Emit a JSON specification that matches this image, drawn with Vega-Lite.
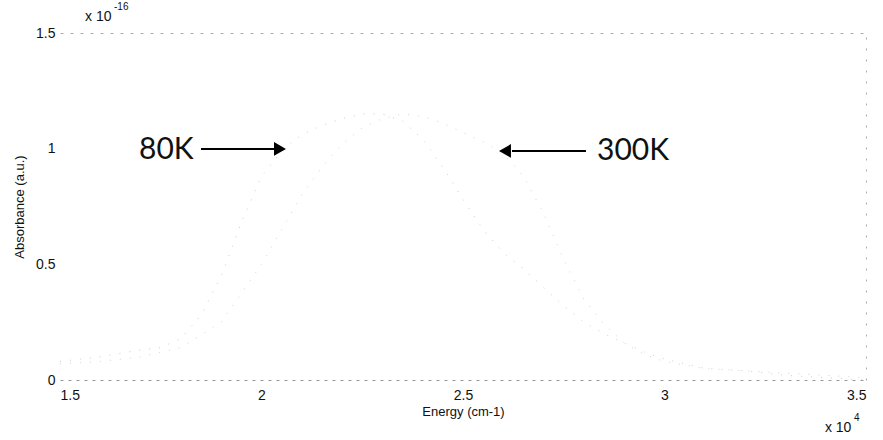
{
  "$schema": "https://vega.github.io/schema/vega-lite/v6.json",
  "autosize": {"type": "none"},
  "width": 806,
  "height": 347,
  "padding": {"left": 60, "top": 33, "right": 17, "bottom": 60},
  "background": "white",
  "config": {
    "view": {"stroke": null},
    "font": "Liberation Sans",
    "axis": {"labelFont": "Liberation Sans", "titleFont": "Liberation Sans", "labelColor": "#111", "titleColor": "#111", "titleFontWeight": "normal", "grid": false}
  },
  "datasets": {
    "spectra": [
      {"energy": 15000, "absorbance": 0.08e-16, "temp": "80K"},
      {"energy": 16000, "absorbance": 0.10e-16, "temp": "80K"},
      {"energy": 17000, "absorbance": 0.13e-16, "temp": "80K"},
      {"energy": 17500, "absorbance": 0.14e-16, "temp": "80K"},
      {"energy": 18000, "absorbance": 0.18e-16, "temp": "80K"},
      {"energy": 18500, "absorbance": 0.28e-16, "temp": "80K"},
      {"energy": 19000, "absorbance": 0.45e-16, "temp": "80K"},
      {"energy": 19500, "absorbance": 0.68e-16, "temp": "80K"},
      {"energy": 20000, "absorbance": 0.88e-16, "temp": "80K"},
      {"energy": 20500, "absorbance": 0.99e-16, "temp": "80K"},
      {"energy": 21000, "absorbance": 1.06e-16, "temp": "80K"},
      {"energy": 21500, "absorbance": 1.10e-16, "temp": "80K"},
      {"energy": 22000, "absorbance": 1.13e-16, "temp": "80K"},
      {"energy": 22500, "absorbance": 1.15e-16, "temp": "80K"},
      {"energy": 23000, "absorbance": 1.15e-16, "temp": "80K"},
      {"energy": 23500, "absorbance": 1.12e-16, "temp": "80K"},
      {"energy": 24000, "absorbance": 1.04e-16, "temp": "80K"},
      {"energy": 24500, "absorbance": 0.92e-16, "temp": "80K"},
      {"energy": 25000, "absorbance": 0.78e-16, "temp": "80K"},
      {"energy": 25500, "absorbance": 0.65e-16, "temp": "80K"},
      {"energy": 26000, "absorbance": 0.55e-16, "temp": "80K"},
      {"energy": 26500, "absorbance": 0.48e-16, "temp": "80K"},
      {"energy": 27000, "absorbance": 0.40e-16, "temp": "80K"},
      {"energy": 27500, "absorbance": 0.32e-16, "temp": "80K"},
      {"energy": 28000, "absorbance": 0.25e-16, "temp": "80K"},
      {"energy": 28500, "absorbance": 0.20e-16, "temp": "80K"},
      {"energy": 29000, "absorbance": 0.16e-16, "temp": "80K"},
      {"energy": 29500, "absorbance": 0.12e-16, "temp": "80K"},
      {"energy": 30000, "absorbance": 0.09e-16, "temp": "80K"},
      {"energy": 30500, "absorbance": 0.07e-16, "temp": "80K"},
      {"energy": 31000, "absorbance": 0.05e-16, "temp": "80K"},
      {"energy": 32000, "absorbance": 0.04e-16, "temp": "80K"},
      {"energy": 33000, "absorbance": 0.02e-16, "temp": "80K"},
      {"energy": 34000, "absorbance": 0.01e-16, "temp": "80K"},
      {"energy": 35000, "absorbance": 0.00e-16, "temp": "80K"},
      {"energy": 15000, "absorbance": 0.07e-16, "temp": "300K"},
      {"energy": 16000, "absorbance": 0.08e-16, "temp": "300K"},
      {"energy": 17000, "absorbance": 0.10e-16, "temp": "300K"},
      {"energy": 18000, "absorbance": 0.14e-16, "temp": "300K"},
      {"energy": 19000, "absorbance": 0.25e-16, "temp": "300K"},
      {"energy": 20000, "absorbance": 0.50e-16, "temp": "300K"},
      {"energy": 20500, "absorbance": 0.65e-16, "temp": "300K"},
      {"energy": 21000, "absorbance": 0.80e-16, "temp": "300K"},
      {"energy": 21500, "absorbance": 0.92e-16, "temp": "300K"},
      {"energy": 22000, "absorbance": 1.02e-16, "temp": "300K"},
      {"energy": 22500, "absorbance": 1.09e-16, "temp": "300K"},
      {"energy": 23000, "absorbance": 1.13e-16, "temp": "300K"},
      {"energy": 23500, "absorbance": 1.15e-16, "temp": "300K"},
      {"energy": 24000, "absorbance": 1.14e-16, "temp": "300K"},
      {"energy": 24500, "absorbance": 1.11e-16, "temp": "300K"},
      {"energy": 25000, "absorbance": 1.07e-16, "temp": "300K"},
      {"energy": 25500, "absorbance": 1.03e-16, "temp": "300K"},
      {"energy": 26000, "absorbance": 0.98e-16, "temp": "300K"},
      {"energy": 26500, "absorbance": 0.88e-16, "temp": "300K"},
      {"energy": 27000, "absorbance": 0.72e-16, "temp": "300K"},
      {"energy": 27500, "absorbance": 0.52e-16, "temp": "300K"},
      {"energy": 28000, "absorbance": 0.35e-16, "temp": "300K"},
      {"energy": 28500, "absorbance": 0.24e-16, "temp": "300K"},
      {"energy": 29000, "absorbance": 0.16e-16, "temp": "300K"},
      {"energy": 29500, "absorbance": 0.11e-16, "temp": "300K"},
      {"energy": 30000, "absorbance": 0.08e-16, "temp": "300K"},
      {"energy": 31000, "absorbance": 0.05e-16, "temp": "300K"},
      {"energy": 32000, "absorbance": 0.04e-16, "temp": "300K"},
      {"energy": 33000, "absorbance": 0.03e-16, "temp": "300K"},
      {"energy": 34000, "absorbance": 0.02e-16, "temp": "300K"},
      {"energy": 35000, "absorbance": 0.01e-16, "temp": "300K"}
    ],
    "arrows": [
      {"label": "80K", "start": 18499, "end": 20335, "head": 20459, "level": 0.999e-16, "dir": "right"},
      {"label": "300K", "start": 26216, "end": 28052, "head": 26042, "level": 0.99e-16, "dir": "left"}
    ],
    "labels": [
      {"label": "80K", "energy": 16960, "level": 0.995e-16},
      {"label": "300K", "energy": 28325, "level": 0.99e-16}
    ],
    "multipliers": [
      {"text": "x 10", "energy": 15620, "level": 1.569e-16, "size": 14},
      {"text": "-16", "energy": 16340, "level": 1.613e-16, "size": 10},
      {"text": "x 10", "energy": 33980, "level": -0.2075e-16, "size": 14},
      {"text": "4", "energy": 34700, "level": -0.164e-16, "size": 10}
    ]
  },
  "layer": [
    {
      "data": {"name": "spectra"},
      "mark": {"type": "line", "strokeWidth": 1, "strokeDash": [1, 9]},
      "encoding": {
        "x": {"field": "energy", "type": "quantitative", "scale": {"domain": [15000, 35000], "nice": false},
          "axis": {"orient": "bottom", "values": [15000, 20000, 25000, 30000, 35000], "labelExpr": "format(datum.value/10000, '.1~f')", "title": "Energy (cm-1)", "titleFontSize": 13, "labelFontSize": 14, "ticks": false, "labelPadding": 8, "titlePadding": 3, "domainColor": "#999", "domainDash": [3, 5], "domainWidth": 1}},
        "y": {"field": "absorbance", "type": "quantitative", "scale": {"domain": [0, 1.5e-16], "nice": false},
          "axis": {"orient": "left", "values": [0, 0.5e-16, 1e-16, 1.5e-16], "labelExpr": "format(datum.value*1e16, '.1~f')", "title": "Absorbance (a.u.)", "titleFontSize": 13, "labelFontSize": 14, "ticks": false, "domain": false, "labelPadding": 5, "titlePadding": 9}},
        "color": {"field": "temp", "type": "nominal", "scale": {"domain": ["80K", "300K"], "range": ["#cccccc", "#d4d4d4"]}, "legend": null}
      }
    },
    {
      "data": {"name": "arrows"},
      "mark": {"type": "rule", "strokeWidth": 2, "color": "#000"},
      "encoding": {
        "x": {"field": "start", "type": "quantitative", "axis": {"orient": "top", "labels": false, "ticks": false, "title": null, "domainColor": "#aaa", "domainDash": [3, 7]}},
        "x2": {"field": "end"},
        "y": {"field": "level", "type": "quantitative", "axis": {"orient": "right", "labels": false, "ticks": false, "title": null, "domainColor": "#aaa", "domainDash": [2, 9]}}
      }
    },
    {
      "data": {"name": "arrows"},
      "mark": {"type": "point", "filled": true, "color": "#000", "opacity": 1, "size": 190},
      "encoding": {
        "x": {"field": "head", "type": "quantitative", "axis": null},
        "y": {"field": "level", "type": "quantitative", "axis": null},
        "shape": {"field": "dir", "type": "nominal", "scale": {"domain": ["right", "left"], "range": ["triangle-right", "triangle-left"]}, "legend": null}
      }
    },
    {
      "data": {"name": "labels"},
      "mark": {"type": "text", "font": "Lato", "fontSize": 30, "align": "left", "baseline": "middle", "color": "#111"},
      "encoding": {
        "x": {"field": "energy", "type": "quantitative", "axis": null},
        "y": {"field": "level", "type": "quantitative", "axis": null},
        "text": {"field": "label"}
      }
    },
    {
      "data": {"name": "multipliers"},
      "mark": {"type": "text", "font": "Liberation Sans", "align": "left", "baseline": "middle", "color": "#111"},
      "encoding": {
        "x": {"field": "energy", "type": "quantitative", "axis": null},
        "y": {"field": "level", "type": "quantitative", "axis": null},
        "text": {"field": "text"},
        "size": {"field": "size", "type": "quantitative", "scale": null}
      }
    }
  ],
  "resolve": {"axis": {"x": "independent", "y": "independent"}}
}
